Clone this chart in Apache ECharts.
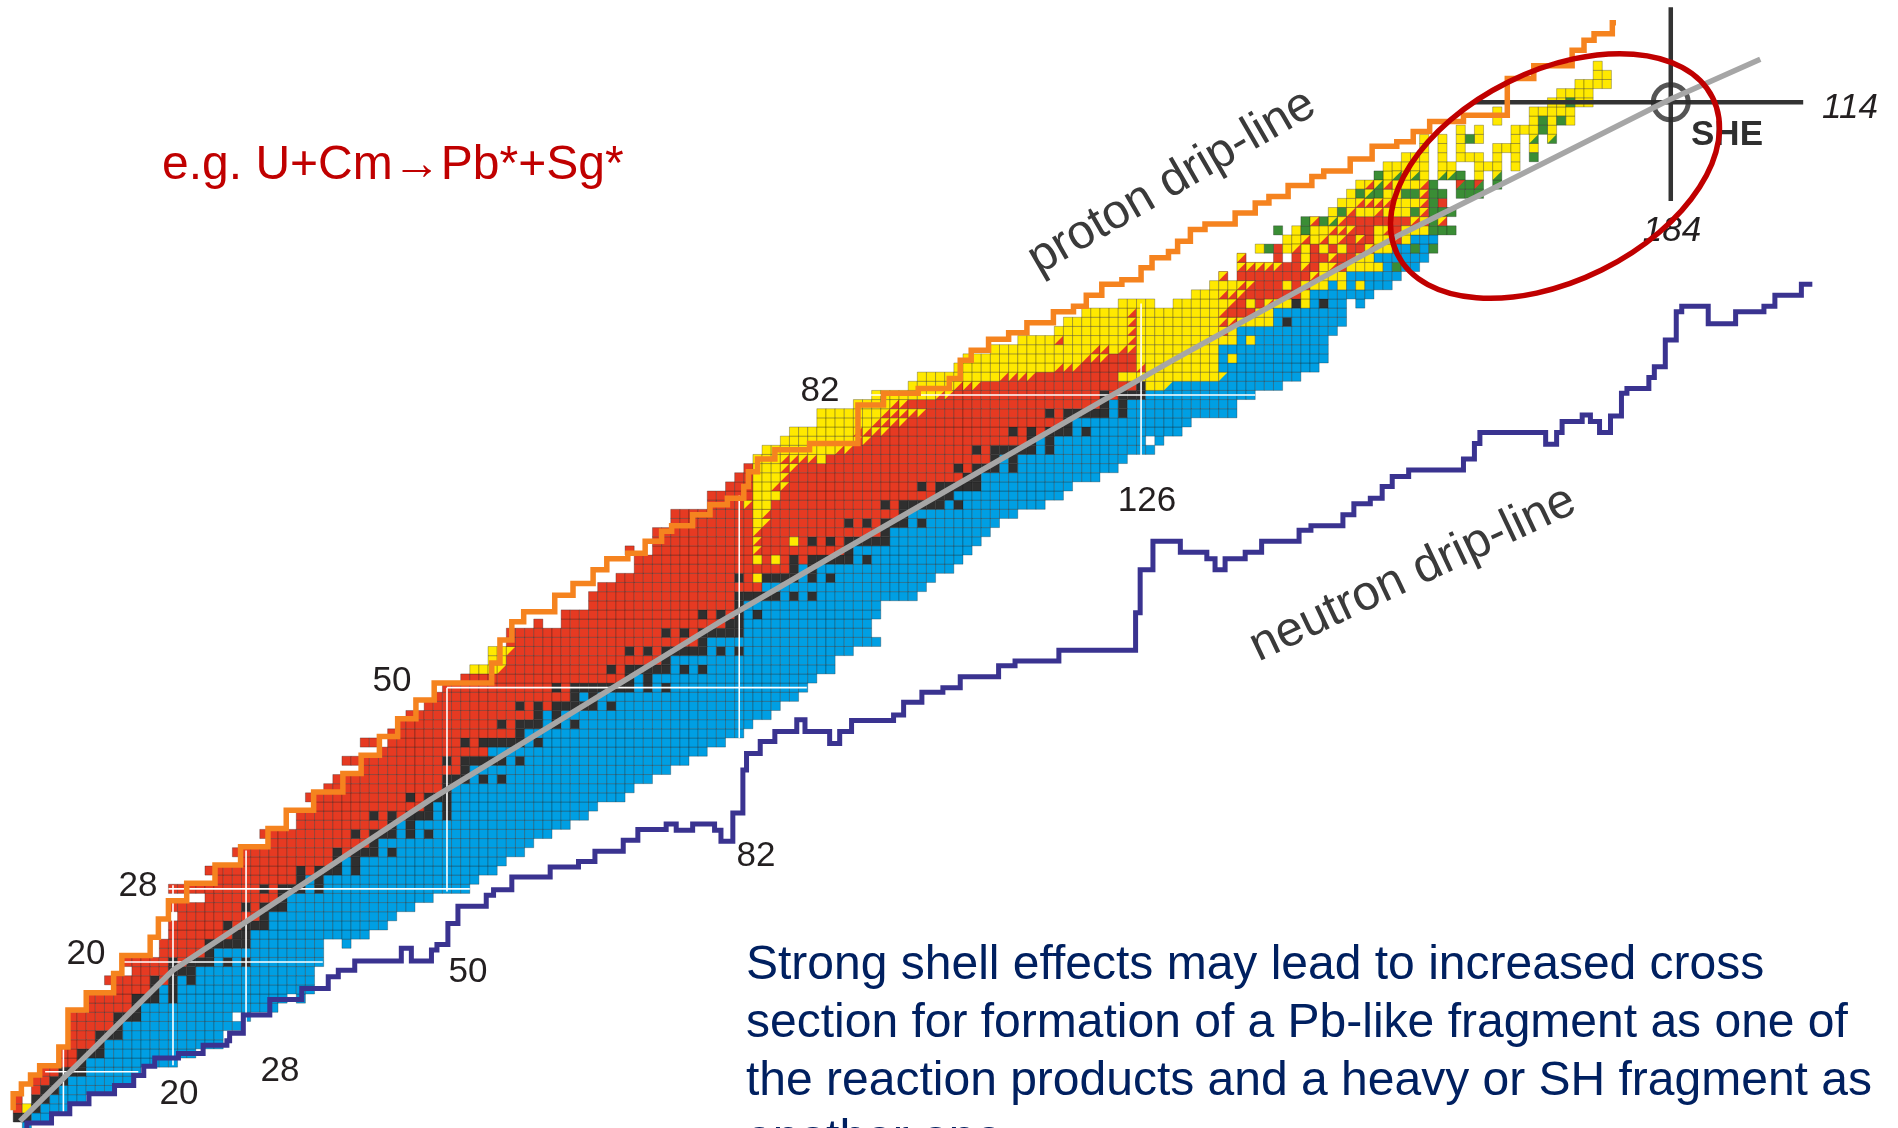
<!DOCTYPE html>
<html>
<head>
<meta charset="utf-8">
<style>
  html, body { margin: 0; padding: 0; background: #fff; }
  #chart { width: 1898px; height: 1128px; }
</style>
<script src="https://cdn.jsdelivr.net/npm/echarts@6/dist/echarts.min.js"></script>
</head>
<body>
<div id="chart"></div>
<script>
// rows of the chart, Z = 2 .. 96: first filled N, last filled N, first beta-minus (blue) N
const rowZ = [2,3,4,5,6,7,8,9,10,11,12,13,14,15,16,17,18,19,20,21,22,23,24,25,26,27,28,29,30,31,32,33,34,35,36,37,38,39,40,41,42,43,44,45,46,47,48,49,50,51,52,53,54,55,56,57,58,59,60,61,62,63,64,65,66,67,68,69,70,71,72,73,74,75,76,77,78,79,80,81,82,83,84,85,86,87,88,89,90,91,92,93,94,95,96];
const rowFirstN = [4,3,3,3,5,5,6,8,8,9,9,9,9,11,11,14,13,16,15,19,19,20,20,21,20,24,20,25,24,28,27,31,30,34,34,36,35,37,38,41,39,43,41,44,45,46,48,49,50,52,53,55,55,57,57,60,63,66,66,67,69,71,71,70,73,73,75,75,79,79,81,82,83,84,85,87,88,91,91,95,97,101,102,106,107,110,113,117,118,120,124,132,134,135,137];
const rowLastN = [4,6,8,10,13,15,16,20,22,25,25,27,28,31,34,35,35,35,36,36,39,41,43,44,46,48,52,53,55,56,58,59,61,63,65,66,69,70,72,74,76,78,80,82,83,85,86,88,89,90,92,92,94,97,96,96,97,97,101,102,103,105,106,107,108,109,110,112,115,117,118,121,123,124,127,128,130,131,136,136,138,141,143,145,146,146,146,147,148,148,150,151,153,154,156];
const rowBlueFrom = [4,5,6,7,8,9,11,11,13,13,15,15,17,17,19,19,21,23,25,25,29,29,31,31,33,33,35,35,39,39,43,43,45,45,49,49,51,51,53,53,57,55,59,59,61,61,67,65,71,71,75,75,79,79,83,83,83,83,87,85,89,89,95,95,99,99,101,101,105,106,109,109,111,111,115,115,119,119,123,123,127,127,136,135,135,135,137,137,141,141,145,145,147,149,153];

// gaps inside the rows [Z, N]
const holeCells = [[5,4],[6,6],[6,7],[14,27],[16,33],[22,37],[22,38],[44,43],[57,61],[57,62],[65,71],[65,72],[77,127],[92,128],[92,129],[92,149],[95,136]];

// stable nuclides: black cells
const stableZ = [3,4,5,6,7,8,9,10,11,12,13,14,15,16,17,18,19,20,21,22,23,24,25,26,27,28,29,30,31,32,33,34,35,36,37,38,39,40,41,42,44,45,46,47,48,49,50,51,52,53,54,55,56,57,58,59,60,62,63,64,65,66,67,68,69,70,71,72,73,74,75,76,77,78,79,80,81,82,83,90,92];
const stableN = [[3,4],[5],[5,6],[6,7],[7,8],[8,9,10],[10],[10,11,12],[12],[12,13,14],[14],[14,15,16],[16],[16,17,18,20],[18,20],[18,20,22],[20,21,22],[20,22,23,24,26,28],[24],[24,25,26,27,28],[27,28],[26,28,29,30],[30],[28,30,31,32],[32],[30,32,33,34,36],[34,36],[34,36,37,38,40],[38,40],[38,40,41,42,44],[42],[40,42,43,44,46,48],[44,46],[42,44,46,47,48,50],[48,50],[46,48,49,50],[50],[50,51,52,54,56],[52],[50,52,53,54,55,56,58],[52,54,55,56,57,58,60],[58],[56,58,59,60,62,64],[60,62],[58,60,62,63,64,65,66,68],[64,66],[62,64,65,66,67,68,69,70,72,74],[70,72],[68,70,71,72,73,74,76,78],[74],[70,72,74,75,76,77,78,80,82],[78],[74,76,78,79,80,81,82],[81,82],[78,80,82,84],[82],[82,83,84,85,86,88,90],[82,85,86,87,88,90,92],[88,90],[88,90,91,92,93,94,96],[94],[90,92,94,95,96,97,98],[98],[94,96,98,99,100,102],[100],[98,100,101,102,103,104,106],[104,105],[102,104,105,106,107,108],[107,108],[106,108,109,110,112],[110,112],[108,110,111,112,113,114,116],[114,116],[112,114,116,117,118,120],[118],[116,118,119,120,121,122,124],[122,124],[122,124,125,126],[126],[142],[143,146]];

// runs of alpha (yellow), fission (green), red and blue cells [Z, from N, to N]
const yellowRuns = [[4,4,4],[52,53,55],[53,55,56],[54,55,56],[62,84,84],[64,84,84],[64,86,86],[66,88,88],[68,84,84],[69,84,84],[70,84,85],[71,84,86],[72,84,85],[73,84,86],[74,84,86],[75,84,86],[75,91,91],[76,85,92],[77,87,94],[78,88,94],[79,91,96],[80,91,97],[81,95,98],[82,97,103],[83,101,105],[83,127,128],[84,102,110],[84,124,134],[85,106,116],[85,127,134],[86,107,119],[86,126,134],[86,136,136],[87,110,120],[87,123,123],[87,126,134],[88,113,116],[88,118,124],[88,126,136],[88,138,138],[89,117,124],[89,126,134],[89,136,136],[90,118,124],[90,126,134],[90,137,140],[91,120,124],[91,126,134],[91,139,140],[92,124,127],[92,130,135],[92,138,138],[92,141,142],[92,144,144],[93,132,134],[93,144,144],[94,134,136],[94,142,142],[94,145,146],[94,148,148],[94,150,150],[95,146,148],[96,146,146],[96,149,152],[97,144,144],[97,150,151],[98,139,139],[98,142,142],[98,144,144],[98,146,146],[98,148,148],[98,152,153],[99,142,143],[99,145,145],[99,147,147],[99,152,153],[99,155,155],[100,143,143],[100,145,146],[100,152,152],[100,155,157],[102,147,147],[102,150,151],[102,153,155],[103,148,149],[103,154,156],[104,149,149],[104,153,154],[105,150,150],[105,154,156],[106,153,153],[106,155,155],[106,157,157],[106,163,163],[107,153,157],[107,159,160],[107,163,165],[107,167,167],[108,155,157],[108,159,159],[108,161,163],[108,165,165],[108,167,167],[109,157,157],[109,159,159],[109,161,161],[109,165,167],[109,169,169],[110,157,157],[110,159,159],[110,161,161],[110,163,163],[110,167,167],[111,161,161],[111,163,163],[111,167,169],[111,171,171],[112,165,165],[112,169,169],[112,171,171],[112,173,173],[113,165,165],[113,169,173],[114,171,172],[114,174,175],[115,172,175],[116,174,177],[117,176,177],[118,176,176]];
const greenRuns = [[96,154,154],[98,140,140],[98,156,156],[98,158,158],[100,141,141],[100,144,144],[100,158,160],[101,144,144],[101,146,146],[101,158,158],[102,148,148],[102,156,156],[102,158,160],[103,158,158],[104,150,150],[104,152,152],[104,155,156],[104,158,159],[104,161,163],[105,158,158],[105,162,162],[105,165,165],[106,152,152],[106,161,161],[108,169,169],[110,162,162],[111,170,170],[112,170,170],[112,172,172],[114,173,173]];
const redRuns = [[97,141,141],[97,143,143],[97,145,146],[97,148,149],[98,141,141],[98,145,145],[98,147,147],[98,149,150],[99,149,149],[99,151,151],[100,150,151],[100,154,154],[101,149,155],[103,159,159]];
const blueRuns = [[97,152,157],[98,154,155],[98,157,157],[99,156,158]];

// half cells: upper left triangle one colour, lower right another [Z, from N, to N]
const yellowRedTri = [[52,56,56],[54,57,57],[65,84,84],[66,84,84],[67,84,84],[68,85,85],[69,85,85],[70,83,83],[72,86,87],[73,87,87],[74,87,88],[75,87,90],[76,93,94],[77,95,96],[78,95,98],[79,97,100],[80,98,102],[81,99,100],[82,104,105],[83,106,108],[84,111,114],[85,117,119],[85,126,126],[86,120,122],[87,121,122],[87,124,125],[88,117,117],[88,125,125],[89,125,125],[89,135,135],[90,125,125],[90,135,136],[91,125,125],[91,135,135],[92,136,136],[92,140,140],[93,135,137],[94,137,138],[94,144,144],[95,135,135],[95,145,145],[96,137,141],[96,144,144],[96,147,147],[97,137,137],[97,147,147],[98,143,143],[98,151,151],[99,144,144],[99,146,146],[99,148,148],[99,150,150],[99,154,154],[100,147,149],[100,153,153],[101,145,145],[101,148,148],[101,156,157],[101,159,159],[102,149,149],[102,152,152],[102,157,157],[103,150,153],[103,157,157],[104,157,157],[105,151,151],[105,153,153],[105,157,157]];
const yellowGreenTri = [[101,147,147],[104,151,151],[105,152,152],[106,154,154],[106,156,156],[106,159,160],[106,165,165],[110,169,169],[110,171,171]];
const yellowBlueTri = [[83,129,129],[84,135,135]];
const redGreenTri = [[105,161,161],[105,163,163]];

// proton drip line: stair corners, each step rises first and then runs along N
const protonN = [2.5,3.4,4.4,5.4,7.5,8.5,10.5,13.5,14.4,17.5,18.4,19.5,21.5,24.6,27.4,30.4,32.4,35.4,38.6,40.6,42.6,44.6,46.6,48.6,54.9,55.8,57.1,58.4,61.8,63.8,66,67.5,69.8,71.7,73.5,74.6,76.9,78.8,80.7,82.5,83,84,85.9,89.7,95,97.8,101.6,105,106.2,107.4,109.3,111.5,113.5,116.4,118.6,120,121.7,123.9,126,127.2,129,130,131.4,133,136.3,138.5,140,142.1,144.7,146,148.9,151.3,154,155.8,157.6,161.3,166.1,169,173.2,174.5,175.6,177.6,178];
const protonZ = [3.8,5.6,6.65,7.65,8.65,10.7,14.75,16.65,18.75,20.7,22.7,24.7,26.7,28.6,30.6,32.6,34.6,36.6,38.6,40.6,42.6,44.65,46.6,48.65,50.5,52.7,55.2,57.2,58.3,60.1,61.4,62.9,64.1,64.7,66,67.1,67.7,68.9,70,70.7,72,73.6,75,76,76.7,80.9,82.2,82.7,83.8,85.8,86.9,88.1,88.8,89.9,91.1,91.7,92.9,94.1,94.6,95.9,97,97.7,98.8,100.1,100.7,101.9,103,103.7,104.9,105.9,106.5,107.8,109.2,109.7,110.8,111.9,112.6,116.6,118,119.7,120.8,121.5,122.7];

// neutron drip line, same kind of stair
const neutronN = [4,6.7,8.7,10.8,13.6,15.7,16.8,18,20.6,23.3,25.9,26.2,27.7,30.6,34.1,37,38.1,39.9,45,46.1,48.3,48.9,50.1,51.2,54.3,55.1,57.1,61.3,64.4,66.2,69.3,70.9,74,75.1,76.9,79.3,80,81.3,82.4,82.8,84.3,85.9,88.3,89.2,91.9,93,94.3,98.9,100,102,104.3,106.2,110.4,112.2,117,125.4,125.9,127.3,130.3,133.2,134.1,135.2,137.4,139.2,143.3,144.6,148.1,149.3,151.1,152.4,153.5,155.3,161.3,162.5,163.1,170.3,171.5,172.1,174.3,175.2,176.2,177.4,178.6,179.2,181.6,182.2,183.4,184.6,185.2,188.1,191.1,194.2,195.4,198.3,199.5];
const neutronZ = [1.8,2.4,3.4,4.5,5.6,6.5,7.6,8.6,9.5,10,10.9,11.4,12.2,14.2,15.9,17.1,18.4,19.1,20.1,21.5,20.1,21.3,21.9,24.2,26.1,27.3,27.9,29.3,30.4,31,32.1,33.3,34.5,35.1,34.4,35.1,34.4,33.2,36.3,41,42.8,44.1,45.2,46.5,45.2,43.9,45.2,46.4,47,48.4,49.5,50,51.2,52.4,52.9,54.1,58.2,62.9,66,64.8,64.1,62.9,64.1,64.8,66,67.2,67.7,68.9,70.1,70.7,72,73.1,73.8,75,76.7,77.9,76.6,77.9,79.1,79.8,79.1,77.9,79.7,82.2,82.7,83.9,85.1,88,91.1,91.7,89.8,91.1,91.7,92.9,94.1];

// line of beta stability
const stabilityN = [3.25,20,48.1,79.9,93.4,124.8,129.5,154.3,166.4,183.9,193.8];
const stabilityZ = [2.6,19.1,37.7,57.2,65.05,83.1,85.8,99.5,105.5,114.3,118.7];

// closed shells as white lines [N1, Z1, N2, Z2]
const shellLines = [[6,8,16.2,8],[14.5,20,36.4,20],[19.5,28,52.5,28],[50,50,89.4,50],[96.3,82,138.5,82],[8,3.6,8,10.6],[20,8.7,20,28.4],[28,12.6,28,32.2],[50,27.7,50,50],[82,44.5,82,71],[126,75.4,126,92]];

const magicN = 184;
const magicZ = 114;
const crossN = [162.3, 198.5];
const crossZ = [103.2, 124.4];

// text on the picture [text, x, y]
const shellLabels = [['82',820,391],['126',1147,501],['50',392,681],['28',138,886],['20',86,954],['20',179,1094],['28',280,1071],['50',468,972],['82',756,856]];
const shLabels = [['114',1850,108],['184',1672,231]];
const noteLines = ['Strong shell effects may lead to increased cross','section for formation of a Pb-like fragment as one of','the reaction products and a heavy or SH fragment as','another one.'];

const colRed = '#e63a22', colBlue = '#009fe3', colYellow = '#ffe900', colGreen = '#3a8d35', colBlack = '#2f2f2f';
const palette = [colRed, colBlue, colYellow, colGreen, colBlack];
const FONT = '"Liberation Sans", Arial, sans-serif';

// fill the cell table from the lists above, later lists paint over earlier ones
const cells = new Map();
function put(z, n, upper, lower) {
  cells.set(z + ':' + n, [n, z, upper, lower]);
}
function putRuns(runs, upper, lower) {
  runs.forEach(function (r) {
    for (let n = r[1]; n <= r[2]; n++) put(r[0], n, upper, lower);
  });
}
rowZ.forEach(function (z, i) {
  for (let n = rowFirstN[i]; n <= rowLastN[i]; n++) {
    const c = n >= rowBlueFrom[i] ? 1 : 0;
    put(z, n, c, c);
  }
});
holeCells.forEach(function (h) { cells.delete(h[0] + ':' + h[1]); });
putRuns(redRuns, 0, 0);
putRuns(blueRuns, 1, 1);
putRuns(yellowRuns, 2, 2);
putRuns(greenRuns, 3, 3);
putRuns(yellowRedTri, 2, 0);
putRuns(yellowGreenTri, 2, 3);
putRuns(yellowBlueTri, 2, 1);
putRuns(redGreenTri, 0, 3);
stableZ.forEach(function (z, i) {
  stableN[i].forEach(function (n) { put(z, n, 4, 4); });
});
const cellData = Array.from(cells.values());

function renderCell(params, api) {
  const n = api.value(0), z = api.value(1);
  const upper = palette[api.value(2)], lower = palette[api.value(3)];
  const tl = api.coord([n - 0.5, z + 0.5]);
  const br = api.coord([n + 0.5, z - 0.5]);
  const w = br[0] - tl[0], h = br[1] - tl[1];
  const children = [{
    type: 'rect',
    shape: { x: tl[0], y: tl[1], width: w, height: h },
    style: { fill: lower }
  }];
  if (upper !== lower) {
    children.push({
      type: 'polygon',
      shape: { points: [[tl[0], tl[1]], [br[0], tl[1]], [tl[0], br[1]]] },
      style: { fill: upper }
    });
  }
  children.push({
    type: 'rect',
    shape: { x: tl[0], y: tl[1], width: w, height: h },
    style: { fill: 'none', stroke: 'rgba(25,25,25,0.42)', lineWidth: 0.7 }
  });
  return { type: 'group', children: children };
}

function zipLine(ns, zs) {
  return ns.map(function (n, i) { return [n, zs[i]]; });
}
function lineSeries(data, color, width, z, step) {
  return {
    type: 'line', data: data, z: z, showSymbol: false, silent: true, animation: false,
    step: step || false,
    lineStyle: { color: color, width: width, join: 'miter', cap: 'butt' }
  };
}

const shellSeries = shellLines.map(function (l) {
  return lineSeries([[l[0], l[1]], [l[2], l[3]]], '#ffffff', 1.6, 3);
});

const graphicTexts = [];
shellLabels.forEach(function (t) {
  graphicTexts.push({ type: 'text', x: t[1], y: t[2], z: 20,
    style: { text: t[0], font: '35px ' + FONT, fill: '#231f20', align: 'center', verticalAlign: 'middle' } });
});
shLabels.forEach(function (t) {
  graphicTexts.push({ type: 'text', x: t[1], y: t[2], z: 20,
    style: { text: t[0], font: 'italic 35px ' + FONT, fill: '#231f20', align: 'center', verticalAlign: 'middle' } });
});
noteLines.forEach(function (t, i) {
  graphicTexts.push({ type: 'text', x: 746, y: 942 + i * 58, z: 20,
    style: { text: t, font: '48px ' + FONT, fill: '#002060', align: 'left', verticalAlign: 'top' } });
});
graphicTexts.push(
  { type: 'text', x: 162, y: 142, z: 20,
    style: { text: 'e.g. U+Cm\u2192Pb*+Sg*', font: '48px ' + FONT, fill: '#c00000', align: 'left', verticalAlign: 'top' } },
  { type: 'text', x: 1172, y: 182, z: 20, rotation: 0.525,
    style: { text: 'proton drip-line', font: '48.5px ' + FONT, fill: '#3a3a3a', align: 'center', verticalAlign: 'middle' } },
  { type: 'text', x: 1413, y: 574, z: 20, rotation: 0.44,
    style: { text: 'neutron drip-line', font: '49px ' + FONT, fill: '#3a3a3a', align: 'center', verticalAlign: 'middle' } },
  { type: 'text', x: 1727, y: 135, z: 20,
    style: { text: 'SHE', font: 'bold 35px ' + FONT, fill: '#2f2f2f', align: 'center', verticalAlign: 'middle' } },
  { type: 'ellipse', x: 1555, y: 176, rotation: 0.46, z: 30,
    shape: { cx: 0, cy: 0, rx: 176, ry: 105 },
    style: { fill: 'none', stroke: '#c00000', lineWidth: 5.5 } }
);

const chart = echarts.init(document.getElementById('chart'), null, { renderer: 'canvas' });
chart.setOption({
  animation: false,
  backgroundColor: '#ffffff',
  grid: { left: 0, right: 0, top: 0, bottom: 0 },
  xAxis: { type: 'value', min: 1.058, max: 208.88, show: false },
  yAxis: { type: 'value', min: 1.848, max: 125.19, show: false },
  graphic: { elements: graphicTexts },
  series: [
    {
      type: 'custom', data: cellData, renderItem: renderCell, z: 2, silent: true,
      animation: false, progressive: 0, clip: true
    }
  ].concat(shellSeries, [
    lineSeries(zipLine(crossN, [magicZ, magicZ]), '#333333', 4.5, 4),
    lineSeries(zipLine([magicN, magicN], crossZ), '#333333', 4.5, 4),
    {
      type: 'scatter', data: [[magicN, magicZ]], z: 4, silent: true, symbol: 'circle', symbolSize: 35,
      itemStyle: { color: 'rgba(0,0,0,0)', borderColor: '#2b2b2b', borderWidth: 5 }
    },
    lineSeries(zipLine(stabilityN, stabilityZ), '#a6a6a6', 5.5, 5),
    lineSeries(zipLine(protonN, protonZ), '#f5831f', 5.5, 6, 'start'),
    lineSeries(zipLine(neutronN, neutronZ), '#3a3390', 5, 6, 'start')
  ])
});
</script>
</body>
</html>
